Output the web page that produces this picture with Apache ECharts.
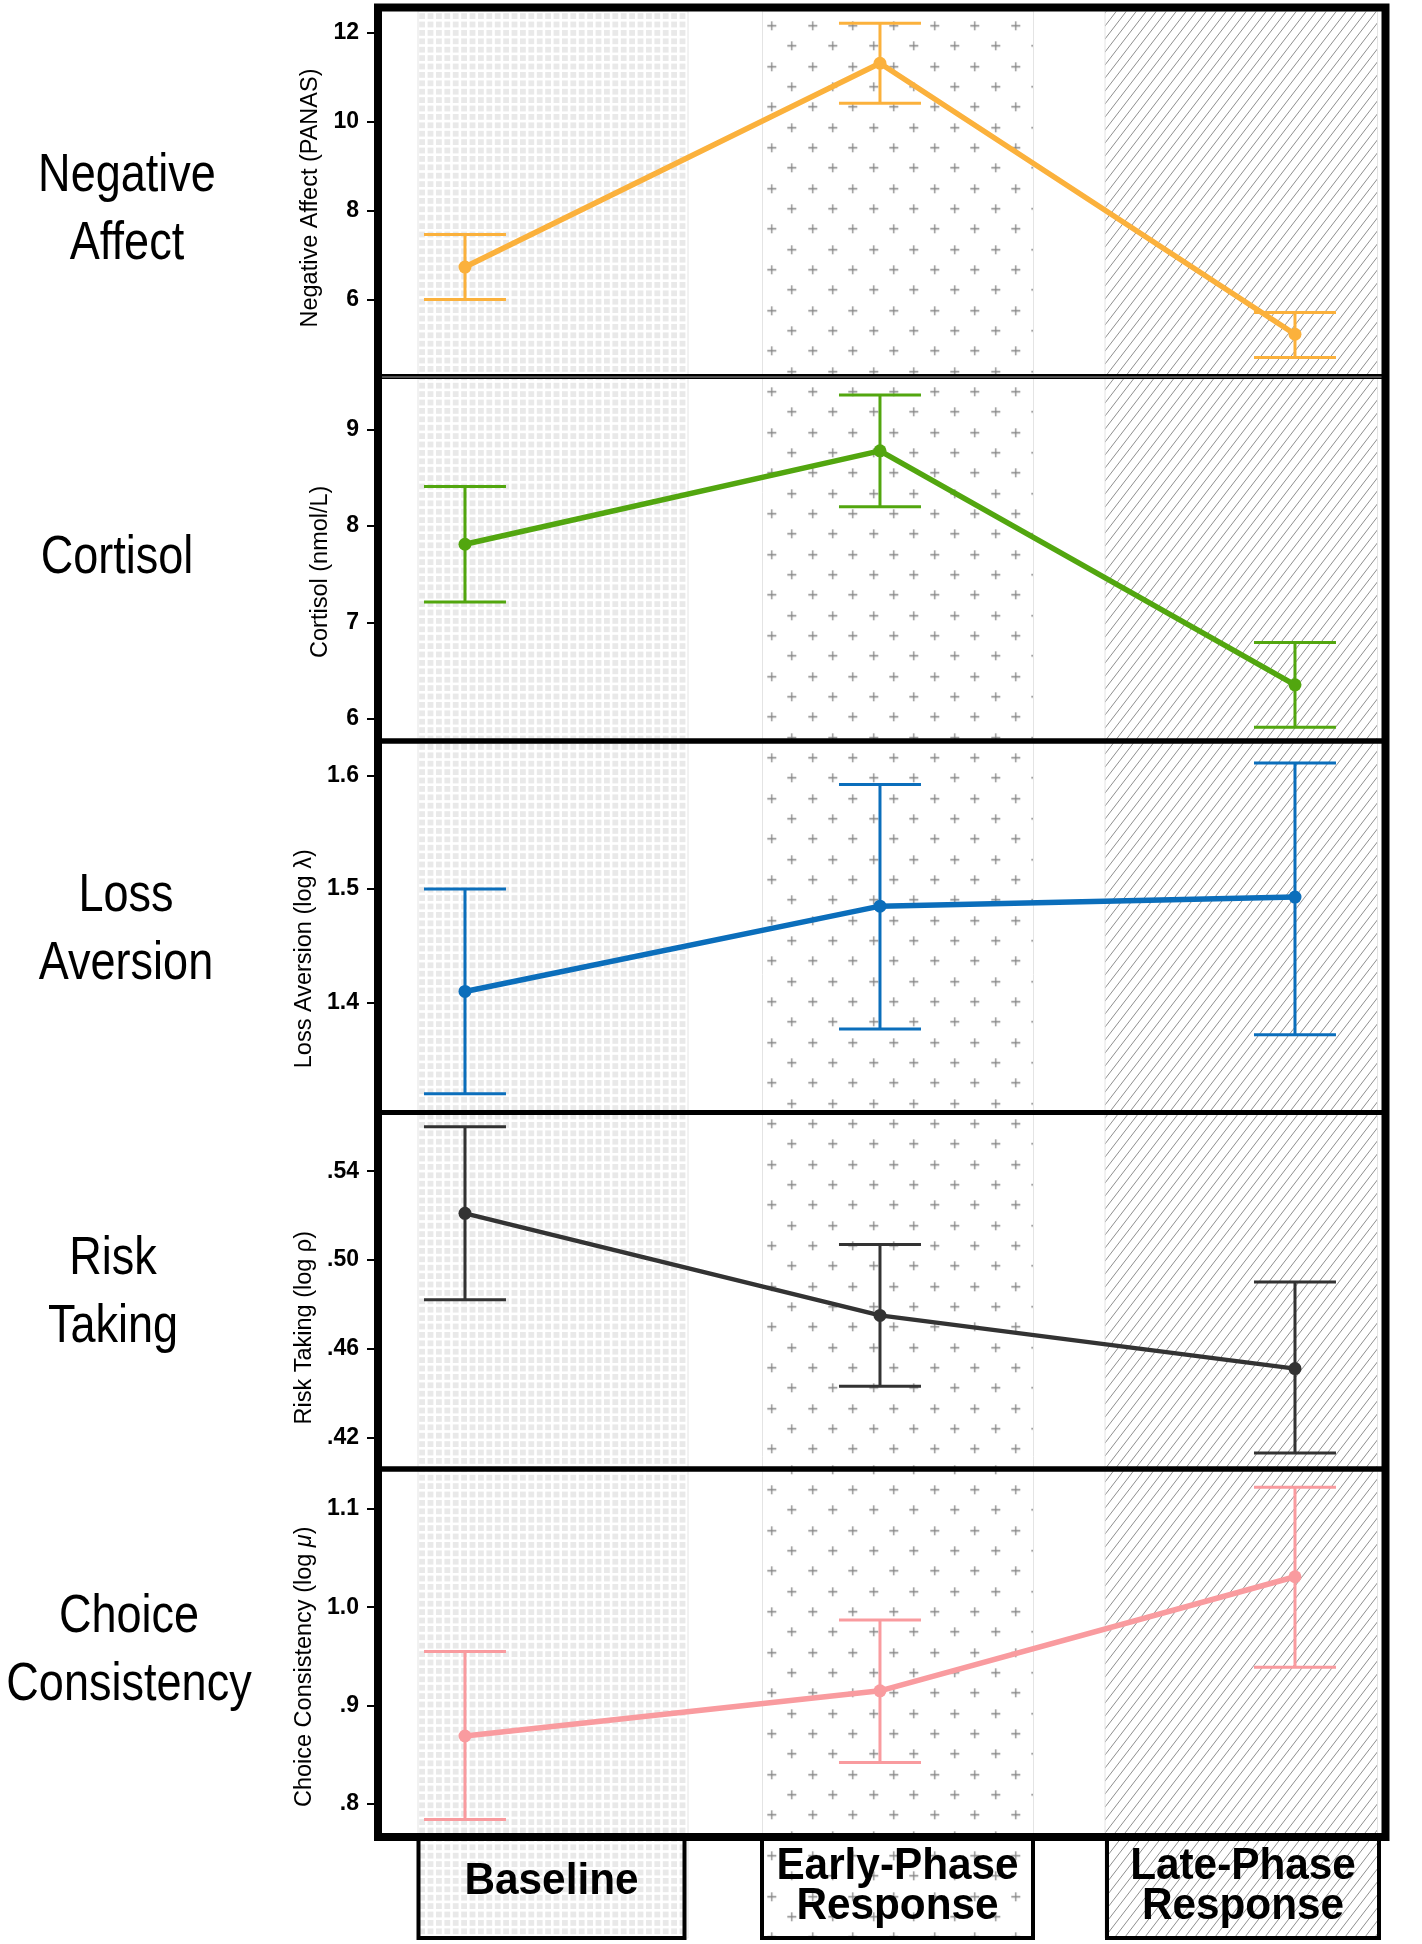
<!DOCTYPE html>
<html>
<head>
<meta charset="utf-8">
<script src="https://cdn.jsdelivr.net/npm/echarts@6/dist/echarts.min.js"></script>
<style>
html,body{margin:0;padding:0;background:#ffffff;}
#chart{width:1422px;height:1944px;}
</style>
</head>
<body>
<div id="chart"></div>
<script>
// ---------------- DATA ----------------
const phaseX = [1, 2, 3];
const phaseNames = ['Baseline', 'Early-Phase\nResponse', 'Late-Phase\nResponse'];
const rowTitles = ['Negative\nAffect', 'Cortisol', 'Loss\nAversion', 'Risk\nTaking', 'Choice\nConsistency'];
const axisNames = ['Negative Affect (PANAS)', 'Cortisol (nmol/L)', 'Loss Aversion (log \u03bb)', 'Risk Taking (log \u03c1)', 'Choice Consistency (log {it|\u03bc})'];

const negAffectMean = [6.74, 11.32, 5.23];
const negAffectLow  = [6.01, 10.42, 4.71];
const negAffectHigh = [7.47, 12.22, 5.72];

const cortisolMean = [7.81, 8.78, 6.35];
const cortisolLow  = [7.21, 8.20, 5.91];
const cortisolHigh = [8.41, 9.36, 6.79];

const lossAvMean = [1.410, 1.485, 1.493];
const lossAvLow  = [1.320, 1.377, 1.372];
const lossAvHigh = [1.500, 1.592, 1.611];

const riskMean = [0.521, 0.475, 0.451];
const riskLow  = [0.482, 0.443, 0.413];
const riskHigh = [0.560, 0.507, 0.490];

const choiceMean = [0.869, 0.915, 1.031];
const choiceLow  = [0.784, 0.842, 0.939];
const choiceHigh = [0.955, 0.987, 1.122];

const negAffectTicks = [6, 8, 10, 12];
const negAffectTickLabels = ['6', '8', '10', '12'];
const cortisolTicks = [6, 7, 8, 9];
const cortisolTickLabels = ['6', '7', '8', '9'];
const lossAvTicks = [1.4, 1.5, 1.6];
const lossAvTickLabels = ['1.4', '1.5', '1.6'];
const riskTicks = [0.42, 0.46, 0.50, 0.54];
const riskTickLabels = ['.42', '.46', '.50', '.54'];
const choiceTicks = [0.8, 0.9, 1.0, 1.1];
const choiceTickLabels = ['.8', '.9', '1.0', '1.1'];

// ---------------- LAYOUT / STYLE ----------------
const FRAME = { left: 378, right: 1385.5, top: 7.5, bottom: 1836.5 };
const panelEdges = [7.5, 376.5, 741, 1112.5, 1469, 1836.5];
const yRanges = [[4.281, 12.573], [5.767, 9.552], [1.3035, 1.6303], [0.40574, 0.56648], [0.76680, 1.14062]];
const xRange = [0.7904, 3.2181];
const nameShift = [6, 13, 32, 37, 14];
const nameGaps = [47, 45, 47, 51, 45];
const rowTitlePos = [[127, 210.5], [117, 558.5], [126, 930], [113, 1293.5], [129, 1651]];
const bandX = [[418, 688], [762.5, 1033.5], [1105, 1377.5]];
const boxX = [[418.5, 684.5], [762, 1033], [1107, 1379]];
const colors = ['#FBB13C', '#52A60F', '#0B6EBB', '#333333', '#F99B9F'];
const CAP_HALF = 41;

const panels = [
  { mean: negAffectMean, low: negAffectLow, high: negAffectHigh, ticks: negAffectTicks, tickLabels: negAffectTickLabels },
  { mean: cortisolMean, low: cortisolLow, high: cortisolHigh, ticks: cortisolTicks, tickLabels: cortisolTickLabels },
  { mean: lossAvMean, low: lossAvLow, high: lossAvHigh, ticks: lossAvTicks, tickLabels: lossAvTickLabels },
  { mean: riskMean, low: riskLow, high: riskHigh, ticks: riskTicks, tickLabels: riskTickLabels },
  { mean: choiceMean, low: choiceLow, high: choiceHigh, ticks: choiceTicks, tickLabels: choiceTickLabels }
];

function fontAvailable(name) {
  const ctx = document.createElement('canvas').getContext('2d');
  const s = 'Negative Affect (PANAS) mmmwwwiii';
  ctx.font = '40px monospace';
  const a = ctx.measureText(s).width;
  ctx.font = '40px "' + name + '", monospace';
  const b = ctx.measureText(s).width;
  return Math.abs(a - b) > 0.5;
}
const hasNarrow = fontAvailable('Liberation Sans Narrow');
const nameFont = hasNarrow ? { fontFamily: 'Liberation Sans Narrow', fontSize: 28 } : { fontFamily: 'Liberation Sans', fontSize: 23.5 };

// ---------------- PATTERNS ----------------
function squaresPattern() {
  const c = document.createElement('canvas');
  c.width = 42; c.height = 42;
  const g = c.getContext('2d');
  g.fillStyle = '#ffffff'; g.fillRect(0, 0, 42, 42);
  g.fillStyle = '#e9e9e9';
  for (let i = 0; i < 5; i++) for (let j = 0; j < 5; j++) g.fillRect(i * 8.4 + 1.2, j * 8.4 + 1.2, 5.8, 5.8);
  return c;
}
function plusPattern() {
  const c = document.createElement('canvas');
  c.width = 122; c.height = 122;
  const g = c.getContext('2d');
  g.strokeStyle = '#858585'; g.lineWidth = 1.3;
  g.beginPath();
  for (let r = 0; r < 6; r++) {
    for (let k = 0; k < 3; k++) {
      const cx = Math.round(k * 40.667 + (r % 2 ? 20.333 : 0) + 10) + 0.5;
      const cy = Math.round(r * 20.333 + 10) + 0.5;
      g.moveTo(cx - 4.5, cy); g.lineTo(cx + 4.5, cy);
      g.moveTo(cx, cy - 4.5); g.lineTo(cx, cy + 4.5);
    }
  }
  g.stroke();
  return c;
}
function hatchPattern() {
  const W = 10, H = 13;
  const c = document.createElement('canvas');
  c.width = W; c.height = H;
  const g = c.getContext('2d');
  g.strokeStyle = '#8f8f8f'; g.lineWidth = 1;
  g.beginPath();
  for (let k = -1; k <= 1; k++) { g.moveTo(k * W, H); g.lineTo(k * W + W, 0); }
  g.stroke();
  return c;
}
const patterns = [
  { image: squaresPattern(), repeat: 'repeat', x: bandX[0][0], y: 12 },
  { image: plusPattern(), repeat: 'repeat', x: 761.3, y: 15.3 },
  { image: hatchPattern(), repeat: 'repeat', x: bandX[2][0], y: 0 }
];

// ---------------- BUILD OPTION ----------------
const grids = [], xAxes = [], yAxes = [], series = [];
panels.forEach(function (p, i) {
  grids.push({
    left: FRAME.left, width: FRAME.right - FRAME.left,
    top: panelEdges[i], height: panelEdges[i + 1] - panelEdges[i],
    show: true, borderColor: '#000', borderWidth: 5, backgroundColor: 'transparent',
    containLabel: false, outerBoundsMode: 'none'
  });
  xAxes.push({ type: 'value', gridIndex: i, min: xRange[0], max: xRange[1], show: false });
  const ticks = p.ticks, labs = p.tickLabels;
  yAxes.push({
    type: 'value', gridIndex: i, min: yRanges[i][0], max: yRanges[i][1], position: 'left',
    axisLine: { show: false }, splitLine: { show: false },
    axisTick: { show: true, length: 11, lineStyle: { color: '#000', width: 2 }, customValues: ticks },
    axisLabel: {
      customValues: ticks, margin: 19, color: '#000', fontWeight: 'bold', fontSize: 23, fontFamily: 'Liberation Sans',
      formatter: function (v) {
        for (let k = 0; k < ticks.length; k++) if (Math.abs(ticks[k] - v) < 1e-9) return labs[k];
        return '';
      }
    },
    name: axisNames[i], nameLocation: 'middle', nameGap: nameGaps[i], nameRotate: 90,
    nameTextStyle: {
      color: '#000', fontFamily: nameFont.fontFamily, fontSize: nameFont.fontSize,
      padding: [0, 2 * nameShift[i], 0, 0],
      rich: { it: { fontStyle: 'italic', fontFamily: nameFont.fontFamily, fontSize: nameFont.fontSize, color: '#000' } }
    }
  });
  const lineData = phaseX.map(function (x, k) { return [x, p.mean[k]]; });
  const errData = phaseX.map(function (x, k) { return [x, p.low[k], p.high[k]]; });
  const col = colors[i];
  series.push({
    type: 'custom', xAxisIndex: i, yAxisIndex: i, data: errData, z: 3,
    encode: { x: 0, y: [1, 2] },
    renderItem: function (params, api) {
      const x = api.value(0);
      const pLo = api.coord([x, api.value(1)]);
      const pHi = api.coord([x, api.value(2)]);
      const st = { stroke: col, lineWidth: 3 };
      return {
        type: 'group', children: [
          { type: 'line', shape: { x1: pLo[0], y1: pLo[1], x2: pHi[0], y2: pHi[1] }, style: st },
          { type: 'line', shape: { x1: pLo[0] - CAP_HALF, y1: pLo[1], x2: pLo[0] + CAP_HALF, y2: pLo[1] }, style: st },
          { type: 'line', shape: { x1: pHi[0] - CAP_HALF, y1: pHi[1], x2: pHi[0] + CAP_HALF, y2: pHi[1] }, style: st }
        ]
      };
    }
  });
  series.push({
    type: 'line', xAxisIndex: i, yAxisIndex: i, data: lineData, z: 4,
    symbol: 'circle', symbolSize: 13, showSymbol: true,
    lineStyle: { color: col, width: i === 3 ? 4.5 : 5.5 },
    itemStyle: { color: col }
  });
});

const graphics = [];
bandX.forEach(function (b, k) {
  graphics.push({
    type: 'rect', z: -5, silent: true,
    shape: { x: b[0], y: 11, width: b[1] - b[0], height: 1927 },
    style: { fill: patterns[k], stroke: '#e4e4e4', lineWidth: 1 }
  });
});
graphics.push({
  type: 'rect', z: 10, silent: true,
  shape: { x: FRAME.left, y: FRAME.top, width: FRAME.right - FRAME.left, height: FRAME.bottom - FRAME.top + 0.5 },
  style: { fill: 'transparent', stroke: '#000', lineWidth: 8 }
});
graphics.push({
  type: 'line', z: 11, silent: true,
  shape: { x1: 382, y1: 377, x2: FRAME.right - 4, y2: 377 },
  style: { stroke: '#a0a0a0', lineWidth: 1.2 }
});
boxX.forEach(function (b, k) {
  graphics.push({
    type: 'rect', z: 10, silent: true,
    shape: { x: b[0], y: 1838, width: b[1] - b[0], height: 100 },
    style: { fill: 'transparent', stroke: '#000', lineWidth: 4 }
  });
  graphics.push({
    type: 'text', z: 11, silent: true,
    x: (b[0] + b[1]) / 2, y: k === 0 ? 1882 : 1887, scaleX: 0.94,
    style: {
      text: phaseNames[k], x: 0, y: 0, fill: '#000',
      font: 'bold 45px "Liberation Sans", Arial, sans-serif',
      textAlign: 'center', align: 'center', textVerticalAlign: 'middle', verticalAlign: 'middle', lineHeight: 40
    }
  });
});
rowTitles.forEach(function (t, k) {
  graphics.push({
    type: 'text', z: 11, silent: true,
    x: rowTitlePos[k][0], y: rowTitlePos[k][1], scaleX: 0.85,
    style: {
      text: t, x: 0, y: 0, fill: '#000',
      font: '53px "Liberation Sans", Arial, sans-serif',
      textAlign: 'center', align: 'center', textVerticalAlign: 'middle', verticalAlign: 'middle', lineHeight: 68
    }
  });
});

const option = {
  animation: false,
  backgroundColor: '#ffffff',
  grid: grids,
  xAxis: xAxes,
  yAxis: yAxes,
  series: series,
  graphic: { elements: graphics }
};

const chart = echarts.init(document.getElementById('chart'), null, { renderer: 'canvas' });
chart.setOption(option);
</script>
</body>
</html>
